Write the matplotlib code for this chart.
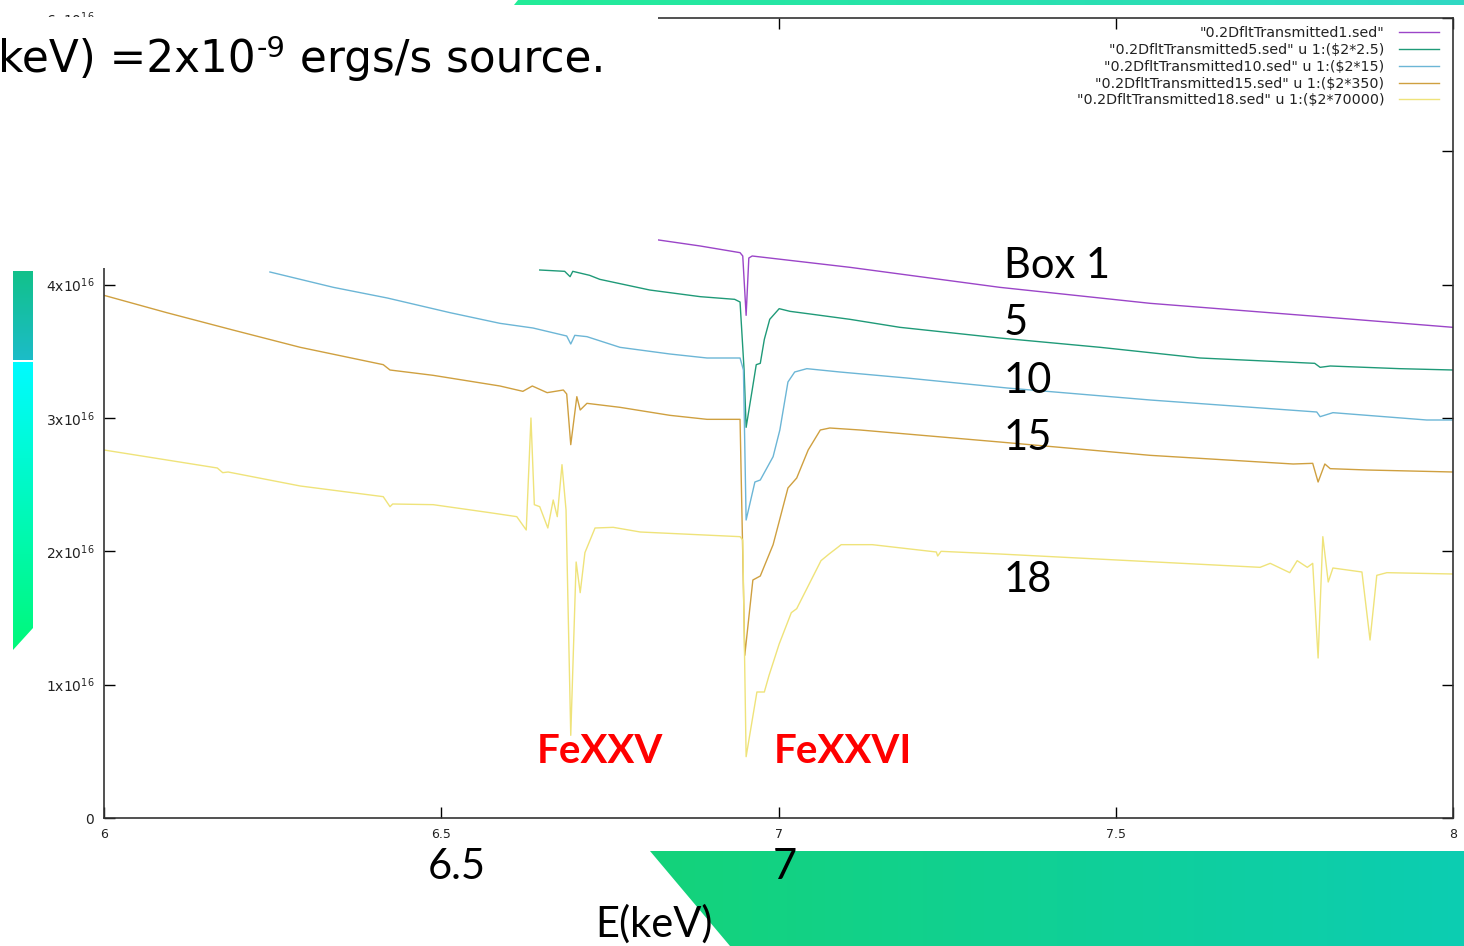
import numpy as np
import matplotlib
matplotlib.use("Agg")
import matplotlib.pyplot as plt
from matplotlib.patches import Rectangle, Polygon
from matplotlib.colors import LinearSegmentedColormap

# ---- spectra (E in keV, flux in units of 1e16) ----
e_box1 = [6.78, 6.821, 6.884, 6.943, 6.947, 6.952, 6.956, 6.961, 7.106, 7.328, 7.551, 7.803, 8.0]
f_box1 = [4.37, 4.336, 4.29, 4.24, 4.215, 3.77, 4.20, 4.215, 4.13, 3.98, 3.86, 3.76, 3.68]

e_box5 = [6.646, 6.683, 6.691, 6.695, 6.720, 6.735, 6.809, 6.884, 6.935, 6.943, 6.949, 6.952,
          6.961, 6.967, 6.973, 6.979, 6.987, 7.001, 7.017, 7.047, 7.106, 7.180, 7.328, 7.477,
          7.625, 7.795, 7.803, 7.818, 7.921, 8.0]
f_box5 = [4.11, 4.10, 4.06, 4.10, 4.07, 4.04, 3.96, 3.91, 3.89, 3.87, 3.36, 2.93,
          3.21, 3.40, 3.41, 3.59, 3.74, 3.82, 3.80, 3.78, 3.74, 3.68, 3.60, 3.53,
          3.45, 3.41, 3.38, 3.39, 3.37, 3.36]

e_box10 = [6.246, 6.340, 6.420, 6.513, 6.587, 6.636, 6.686, 6.692, 6.698, 6.716, 6.765,
           6.839, 6.894, 6.943, 6.948, 6.952, 6.965, 6.973, 6.992, 7.002, 7.014, 7.024, 7.042,
           7.091, 7.190, 7.339, 7.551, 7.798, 7.803, 7.822, 7.961, 8.0]
f_box10 = [4.095, 3.98, 3.90, 3.79, 3.71, 3.675, 3.615, 3.555, 3.62, 3.61, 3.53,
           3.48, 3.45, 3.45, 3.36, 2.235, 2.52, 2.535, 2.71, 2.91, 3.27, 3.345, 3.37,
           3.345, 3.30, 3.225, 3.135, 3.045, 3.01, 3.04, 2.985, 2.985]

e_box15 = [6.0, 6.093, 6.191, 6.291, 6.414, 6.424, 6.488, 6.587, 6.621, 6.635, 6.657, 6.681,
           6.686, 6.692, 6.701, 6.706, 6.716, 6.765, 6.839, 6.894, 6.943, 6.950, 6.962, 6.973,
           6.992, 7.014, 7.027, 7.044, 7.062, 7.076, 7.121, 7.190, 7.328, 7.551, 7.763, 7.792,
           7.800, 7.810, 7.818, 7.873, 8.0]
f_box15 = [3.92, 3.79, 3.66, 3.53, 3.40, 3.36, 3.32, 3.24, 3.20, 3.24, 3.19, 3.21,
           3.18, 2.80, 3.16, 3.06, 3.11, 3.08, 3.02, 2.99, 2.99, 1.22, 1.785, 1.815,
           2.05, 2.475, 2.55, 2.76, 2.91, 2.925, 2.91, 2.88, 2.82, 2.72, 2.655, 2.66,
           2.52, 2.655, 2.62, 2.61, 2.595]

e_box18 = [6.0, 6.168, 6.176, 6.184, 6.291, 6.414, 6.424, 6.428, 6.488, 6.572, 6.612, 6.626,
           6.633, 6.638, 6.646, 6.658, 6.666, 6.672, 6.679, 6.685, 6.692, 6.700, 6.706, 6.713,
           6.728, 6.755, 6.795, 6.943, 6.947, 6.952, 6.968, 6.979, 6.986, 7.001, 7.019, 7.027,
           7.042, 7.063, 7.075, 7.093, 7.139, 7.234, 7.236, 7.241, 7.328, 7.714, 7.729, 7.758,
           7.769, 7.784, 7.792, 7.800, 7.807, 7.815, 7.822, 7.865, 7.877, 7.887, 7.902, 8.0]
f_box18 = [2.76, 2.625, 2.59, 2.595, 2.49, 2.41, 2.335, 2.355, 2.35, 2.29, 2.26, 2.16,
           3.00, 2.35, 2.335, 2.175, 2.385, 2.26, 2.65, 2.31, 0.62, 1.92, 1.69, 1.99,
           2.175, 2.18, 2.145, 2.11, 2.085, 0.46, 0.945, 0.945, 1.07, 1.305, 1.54, 1.57,
           1.72, 1.93, 1.98, 2.05, 2.05, 1.995, 1.965, 2.00, 1.98, 1.88, 1.91, 1.84,
           1.93, 1.88, 1.91, 1.20, 2.11, 1.77, 1.875, 1.845, 1.335, 1.82, 1.84, 1.83]

series = [
    (e_box1, f_box1, '"0.2DfltTransmitted1.sed"', "#9b45c8"),
    (e_box5, f_box5, '"0.2DfltTransmitted5.sed" u 1:(\\$2*2.5)', "#1f9a78"),
    (e_box10, f_box10, '"0.2DfltTransmitted10.sed" u 1:(\\$2*15)', "#6cb6d6"),
    (e_box15, f_box15, '"0.2DfltTransmitted15.sed" u 1:(\\$2*350)', "#cfa040"),
    (e_box18, f_box18, '"0.2DfltTransmitted18.sed" u 1:(\\$2*70000)', "#efe37a"),
]

xticks = [6, 6.5, 7, 7.5, 8]
xtick_labels = ["6", "6.5", "7", "7.5", "8"]
yticks = [0, 1, 2, 3, 4, 5, 6]
ytick_labels = ["0"] + [r"%dx10$^{16}$" % k for k in range(1, 7)]

box_labels = ["Box 1", "5", "10", "15", "18"]

W, H = 1464, 946
fig = plt.figure(figsize=(W / 100, H / 100), dpi=100)
fig.patch.set_facecolor("white")

# gnuplot chart
ax = fig.add_axes([104 / W, 1 - 818 / H, (1453 - 104) / W, (818 - 18) / H])
for e, f, lab, col in series:
    ax.plot(e, np.array(f) * 1e16, color=col, lw=1.0, label=lab)
ax.set_xlim(6, 8)
ax.set_ylim(0, 6e16)
ax.set_xticks(xticks)
ax.set_xticklabels(xtick_labels, fontsize=9, color="#222222")
ax.set_yticks(np.array(yticks) * 1e16)
ax.set_yticklabels(ytick_labels, fontsize=10, color="#222222")
ax.tick_params(direction="in", length=8, width=1, top=True, right=True, pad=7)
for s in ax.spines.values():
    s.set_color("#333333")
    s.set_linewidth(1.2)
leg = ax.legend(loc="upper right", bbox_to_anchor=(0.9896, 0.99), markerfirst=False,
                frameon=False, fontsize=10.3, handlelength=2.8, handletextpad=1.0,
                labelspacing=0.2, borderpad=0, borderaxespad=0)
for t in leg.get_texts():
    t.set_color("#222222")

# slide overlay in pixel coordinates
ov = fig.add_axes([0, 0, 1, 1], zorder=5)
ov.patch.set_alpha(0)
ov.axis("off")

ov.add_patch(Rectangle((0, 17), 658, 251, facecolor="white", edgecolor="none"))

def gradient_patch(verts, c0, c1, horizontal=True):
    poly = Polygon(verts, closed=True, facecolor="none", edgecolor="none")
    ov.add_patch(poly)
    xs = [v[0] for v in verts]
    ys = [v[1] for v in verts]
    cmap = LinearSegmentedColormap.from_list("g", [c0, c1])
    grad = np.linspace(0, 1, 256)
    img = grad[None, :] if horizontal else grad[:, None]
    im = ov.imshow(img, cmap=cmap, aspect="auto",
                   extent=(min(xs), max(xs), max(ys), min(ys)))
    im.set_clip_path(poly)

gradient_patch([(650, 851), (1464, 851), (1464, 946), (730, 946)], "#14d37a", "#0ccdb2")
gradient_patch([(518, 0), (1464, 0), (1464, 5), (514, 5)], "#22ec98", "#30d8c4")
gradient_patch([(13, 271), (33, 271), (33, 360), (13, 360)], "#12c18a", "#1cbcc8", horizontal=False)
gradient_patch([(13, 362), (33, 362), (33, 628), (13, 650)], "#00fbff", "#00f87a", horizontal=False)

ov.set_xlim(0, W)
ov.set_ylim(H, 0)

# heading, with a plain hyphen in the exponent
t1 = ov.text(-2, 72, "keV) =2x10", ha="left", va="baseline", fontsize=31.5, color="black")
t2 = ov.annotate("-9", xy=(1, 1), xycoords=t1, xytext=(1, 2), textcoords="offset points",
                 ha="left", va="top", fontsize=21, color="black")
t3 = ov.annotate(" ergs/s source.", xy=(1, 0), xycoords=(t2, t1), ha="left", va="bottom",
                 fontsize=31.5, color="black")

for lab, ypix in zip(box_labels, [263, 320, 378, 435, 577]):
    ov.text(1004, ypix + 3, lab, ha="left", va="center", fontsize=30, family="Lato", color="black")

ov.text(600, 751, "FeXXV", ha="center", va="center", fontsize=29, family="Lato",
        fontweight="bold", color="#ff0000")
ov.text(843, 751, "FeXXVI", ha="center", va="center", fontsize=29, family="Lato",
        fontweight="bold", color="#ff0000")

ov.text(457, 867, "6.5", ha="center", va="center", fontsize=30, family="Lato", color="black")
ov.text(785, 867, "7", ha="center", va="center", fontsize=30, family="Lato", color="black")
ov.text(654, 924, "E(keV)", ha="center", va="center", fontsize=30, family="Lato", color="black")

fig.savefig("out.png", dpi=100)
